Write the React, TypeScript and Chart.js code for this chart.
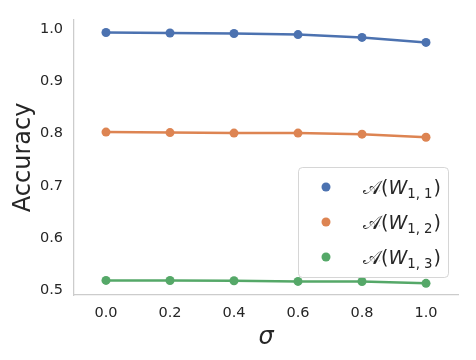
import React, { useEffect, useRef } from "react";
import { Chart, registerables } from "chart.js";
Chart.register(...registerables);

const sigma = [0.0, 0.2, 0.4, 0.6, 0.8, 1.0];
const accW11 = [0.994, 0.993, 0.992, 0.990, 0.9845, 0.975];
const accW12 = [0.803, 0.802, 0.801, 0.801, 0.799, 0.793];
const accW13 = [0.5185, 0.5183, 0.5178, 0.5166, 0.5164, 0.5128];
const seriesSubscripts = ["1, 1", "1, 2", "1, 3"];
const seriesColors = ["#4c72b0", "#dd8452", "#55a868"];
const xTicks = [0, 0.2, 0.4, 0.6, 0.8, 1.0];
const yTicks = [0.5, 0.6, 0.7, 0.8, 0.9, 1.0];

const TEXT = "#262626";
const FONT = "'DejaVu Sans', sans-serif";

const legendPlugin = {
  id: "mplLegend",
  afterDatasetsDraw(chart: any) {
    const { ctx, chartArea } = chart;
    const w = 150, h = 110;
    const x0 = chartArea.right - 10 - w;
    const y0 = chartArea.bottom - 18 - h;
    ctx.save();
    ctx.beginPath();
    ctx.roundRect(x0 + 0.5, y0 + 0.5, w, h, 4);
    ctx.fillStyle = "rgba(255,255,255,0.8)";
    ctx.fill();
    ctx.strokeStyle = "rgba(204,204,204,0.8)";
    ctx.lineWidth = 1;
    ctx.stroke();
    const fs = 19;
    seriesSubscripts.forEach((sub, i) => {
      const cy = y0 + 20 + i * 35;
      ctx.beginPath();
      ctx.arc(x0 + 28, cy, 4.5, 0, Math.PI * 2);
      ctx.fillStyle = seriesColors[i];
      ctx.fill();
      ctx.fillStyle = TEXT;
      ctx.textBaseline = "alphabetic";
      ctx.textAlign = "left";
      const base = cy + 7;
      let x = x0 + 65;
      ctx.font = `${fs}px ${FONT}`;
      ctx.fillText("𝒜(", x, base);
      x += ctx.measureText("𝒜(").width;
      ctx.font = `italic ${fs}px ${FONT}`;
      ctx.fillText("W", x, base);
      x += ctx.measureText("W").width;
      ctx.font = `${fs * 0.7}px ${FONT}`;
      ctx.fillText(sub, x, base + 4);
      x += ctx.measureText(sub).width + 1;
      ctx.font = `${fs}px ${FONT}`;
      ctx.fillText(")", x, base);
    });
    ctx.restore();
  },
};

export default function App() {
  const ref = useRef<HTMLCanvasElement | null>(null);
  useEffect(() => {
    document.body.style.margin = "0";
    const mk = (label: string, data: number[], color: string) => ({
      label,
      data: sigma.map((s, i) => ({ x: s, y: data[i] })),
      borderColor: color,
      backgroundColor: color,
      borderWidth: 2.5,
      pointRadius: 4.5,
      pointHoverRadius: 4.5,
      pointBorderWidth: 0,
      tension: 0,
    });
    const chart = new Chart(ref.current!, {
      type: "line",
      data: {
        datasets: [
          mk("A(W1,1)", accW11, seriesColors[0]),
          mk("A(W1,2)", accW12, seriesColors[1]),
          mk("A(W1,3)", accW13, seriesColors[2]),
        ],
      },
      options: {
        animation: false,
        responsive: false,
        devicePixelRatio: 1,
        layout: { padding: { left: 0, top: 18, right: 18, bottom: 0 } },
        plugins: { legend: { display: false }, tooltip: { enabled: false } },
        scales: {
          x: {
            type: "linear",
            min: -0.1,
            max: 1.1,
            afterBuildTicks: (s: any) => {
              s.ticks = xTicks.map((v) => ({ value: v }));
            },
            afterFit: (s: any) => {
              s.height = 65;
            },
            grid: { display: false, drawTicks: false },
            border: { display: true, color: "#cccccc", width: 1.25 },
            ticks: {
              color: TEXT,
              font: { family: FONT, size: 14.5 },
              padding: 10,
              callback: (v: any) => Number(v).toFixed(1),
            },
            title: {
              display: true,
              text: "σ",
              color: TEXT,
              font: { family: FONT, size: 24, style: "italic" },
              padding: { top: 0, bottom: 8 },
            },
          },
          y: {
            type: "linear",
            min: 0.4905,
            max: 1.0185,
            afterBuildTicks: (s: any) => {
              s.ticks = yTicks.map((v) => ({ value: v }));
            },
            afterFit: (s: any) => {
              s.width = 74;
            },
            grid: { display: false, drawTicks: false },
            border: { display: true, color: "#cccccc", width: 1.25 },
            ticks: {
              color: TEXT,
              font: { family: FONT, size: 14.5 },
              padding: 11,
              callback: (v: any) => Number(v).toFixed(1),
            },
            title: {
              display: true,
              text: "Accuracy",
              color: TEXT,
              font: { family: FONT, size: 24 },
              padding: { top: 9, bottom: 0 },
            },
          },
        },
      },
      plugins: [legendPlugin],
    });
    return () => chart.destroy();
  }, []);
  return (
    <div style={{ position: "fixed", left: 0, top: 0, width: 476, height: 360, background: "#fff" }}>
      <canvas ref={ref} width={476} height={360} />
    </div>
  );
}
